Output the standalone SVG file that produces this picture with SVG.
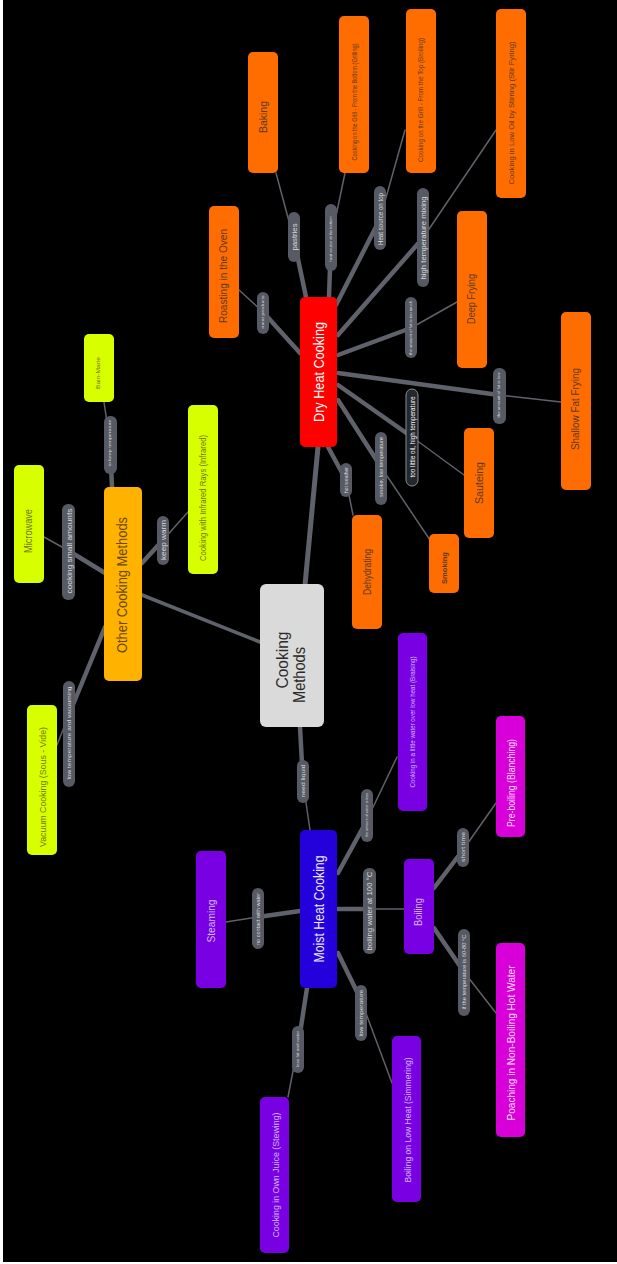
<svg xmlns="http://www.w3.org/2000/svg" width="617" height="1264" viewBox="0 0 617 1264">
<style>
.bg{fill:#000}
.c{stroke:#5f626a;fill:none;stroke-linecap:round}
.k{stroke-width:4.5}
.n{stroke-width:1.5}
.t{font-family:"Liberation Sans",Arial,sans-serif;text-anchor:middle;dominant-baseline:central}
.or rect{fill:#ff6d00}
.or text{fill:#5c3a22}
.lm rect{fill:#d8ff00}
.lm text{fill:#6f7a00}
.pu rect{fill:#7a00e4}
.pu text{fill:#cdb8fa}
.mg rect{fill:#d800d8}
.mg text{fill:#ffd8ff}
.lb rect{fill:#575a64}
.lb text{fill:#dcdcdc}
</style>
<rect x="0" y="0" width="617" height="1264" fill="#fff"/>
<rect class="bg" x="3" y="0" width="614" height="1262"/>
<g id="connectors">
<line class="c k" x1="305" y1="585" x2="318" y2="447" style="stroke-width:5"/>
<line class="c k" x1="260" y1="642" x2="142" y2="595" style="stroke-width:3.5"/>
<line class="c k" x1="300" y1="727" x2="303" y2="782"/>
<line class="c n" x1="303" y1="782" x2="310" y2="830"/>
<line class="c k" x1="306" y1="297" x2="294" y2="240"/>
<line class="c n" x1="294" y1="240" x2="276" y2="173"/>
<line class="c k" x1="329" y1="297" x2="331" y2="240"/>
<line class="c n" x1="331" y1="240" x2="345" y2="173"/>
<line class="c k" x1="336" y1="305" x2="380" y2="219"/>
<line class="c n" x1="380" y1="219" x2="405" y2="130"/>
<line class="c k" x1="338" y1="335" x2="423" y2="238"/>
<line class="c n" x1="423" y1="238" x2="496" y2="130"/>
<line class="c k" x1="338" y1="355" x2="411" y2="328"/>
<line class="c n" x1="411" y1="328" x2="457" y2="302"/>
<line class="c k" x1="338" y1="373" x2="499" y2="395"/>
<line class="c n" x1="499" y1="395" x2="561" y2="402"/>
<line class="c k" x1="338" y1="385" x2="412" y2="437"/>
<line class="c n" x1="412" y1="437" x2="464" y2="475"/>
<line class="c k" x1="338" y1="400" x2="381" y2="467"/>
<line class="c n" x1="381" y1="467" x2="430" y2="540"/>
<line class="c k" x1="328" y1="447" x2="346" y2="480"/>
<line class="c n" x1="346" y1="480" x2="353" y2="515"/>
<line class="c k" x1="300" y1="353" x2="263" y2="312"/>
<line class="c n" x1="263" y1="312" x2="239" y2="290"/>
<line class="c k" x1="112" y1="487" x2="110" y2="443"/>
<line class="c n" x1="110" y1="443" x2="104" y2="402"/>
<line class="c k" x1="105" y1="573" x2="69" y2="551"/>
<line class="c n" x1="69" y1="551" x2="44" y2="537"/>
<line class="c k" x1="142" y1="563" x2="163" y2="540"/>
<line class="c n" x1="163" y1="540" x2="188" y2="512"/>
<line class="c k" x1="105" y1="627" x2="70" y2="712"/>
<line class="c n" x1="70" y1="712" x2="57" y2="745"/>
<line class="c k" x1="300" y1="911" x2="258" y2="917"/>
<line class="c n" x1="258" y1="917" x2="226" y2="922"/>
<line class="c k" x1="338" y1="873" x2="366" y2="822"/>
<line class="c n" x1="366" y1="822" x2="397" y2="757"/>
<line class="c k" x1="337" y1="909" x2="369" y2="909"/>
<line class="c n" x1="369" y1="909" x2="404" y2="909"/>
<line class="c k" x1="338" y1="953" x2="361" y2="1000"/>
<line class="c n" x1="361" y1="1000" x2="392" y2="1083"/>
<line class="c k" x1="307" y1="988" x2="299" y2="1040"/>
<line class="c n" x1="299" y1="1040" x2="288" y2="1097"/>
<line class="c k" x1="434" y1="888" x2="463" y2="850"/>
<line class="c n" x1="463" y1="850" x2="496" y2="803"/>
<line class="c k" x1="434" y1="928" x2="464" y2="972"/>
<line class="c n" x1="464" y1="972" x2="496" y2="1013"/>
</g>
<g id="labels" class="lb">
<g id="l-pastries"><rect x="288" y="212" width="12" height="50" rx="6"/><text class="t" font-size="7" transform="translate(294,237) rotate(-90)" textLength="27" lengthAdjust="spacingAndGlyphs">pastries</text></g>
<g id="l-heatbottom"><rect x="325" y="204" width="12" height="67" rx="6"/><text class="t" font-size="3.5" transform="translate(331,239) rotate(-90)" textLength="45" lengthAdjust="spacingAndGlyphs">heat source at the bottom</text></g>
<g id="l-heattop"><rect x="374" y="186" width="12" height="64" rx="6"/><text class="t" font-size="6.5" transform="translate(380,219) rotate(-90)" textLength="52" lengthAdjust="spacingAndGlyphs">Heat source on top</text></g>
<g id="l-mixing"><rect x="417" y="188" width="12" height="99" rx="6"/><text class="t" font-size="7.5" transform="translate(423,238) rotate(-90)" textLength="83" lengthAdjust="spacingAndGlyphs">high temperature mixing</text></g>
<g id="l-meat"><rect x="257" y="292" width="12" height="42" rx="6"/><text class="t" font-size="3.5" transform="translate(263,312) rotate(-90)" textLength="33" lengthAdjust="spacingAndGlyphs">meat products</text></g>
<g id="l-toomuch"><rect x="405" y="297" width="12" height="61" rx="6"/><text class="t" font-size="3.3" transform="translate(411,328) rotate(-90)" textLength="54" lengthAdjust="spacingAndGlyphs">the amount of fat is too much</text></g>
<g id="l-low"><rect x="493" y="368" width="13" height="56" rx="6"/><text class="t" font-size="3.5" transform="translate(499,395) rotate(-90)" textLength="45" lengthAdjust="spacingAndGlyphs">the amount of fat is low</text></g>
<g id="l-toolittle"><rect x="406" y="389" width="12" height="97" rx="6" style="fill:#24272e;stroke:#8a8d96;stroke-width:1"/><text class="t" font-size="6.5" transform="translate(412,437) rotate(-90)" textLength="81" lengthAdjust="spacingAndGlyphs" style="fill:#fff">too little oil, high temperature</text></g>
<g id="l-smoke"><rect x="375" y="432" width="12" height="73" rx="6"/><text class="t" font-size="6" transform="translate(381,467) rotate(-90)" textLength="60" lengthAdjust="spacingAndGlyphs">smoke, low temperature</text></g>
<g id="l-hot"><rect x="340" y="463" width="12" height="34" rx="6"/><text class="t" font-size="6" transform="translate(346,480) rotate(-90)" textLength="26" lengthAdjust="spacingAndGlyphs">hot weather</text></g>
<g id="l-bain"><rect x="104" y="416" width="13" height="58" rx="6"/><text class="t" font-size="3.5" transform="translate(110,443) rotate(-90)" textLength="47" lengthAdjust="spacingAndGlyphs">to keep temperature</text></g>
<g id="l-small"><rect x="62" y="504" width="13" height="96" rx="6"/><text class="t" font-size="7.5" transform="translate(69,551) rotate(-90)" textLength="85" lengthAdjust="spacingAndGlyphs">cooking small amounts</text></g>
<g id="l-warm"><rect x="157" y="516" width="12" height="49" rx="6"/><text class="t" font-size="7" transform="translate(163,540) rotate(-90)" textLength="40" lengthAdjust="spacingAndGlyphs">keep warm</text></g>
<g id="l-vacuum"><rect x="63" y="681" width="12" height="106" rx="6"/><text class="t" font-size="5" transform="translate(69,733) rotate(-90)" textLength="93" lengthAdjust="spacingAndGlyphs">low temperature and vacuuming</text></g>
<g id="l-liquid"><rect x="297" y="760" width="12" height="43" rx="6"/><text class="t" font-size="6" transform="translate(303,781) rotate(-90)" textLength="33" lengthAdjust="spacingAndGlyphs">need liquid</text></g>
<g id="l-braise"><rect x="361" y="789" width="12" height="53" rx="6"/><text class="t" font-size="3.3" transform="translate(367,815) rotate(-90)" textLength="44" lengthAdjust="spacingAndGlyphs">the amount of water is less</text></g>
<g id="l-nocontact"><rect x="252" y="888" width="12" height="61" rx="6"/><text class="t" font-size="4.5" transform="translate(258,919) rotate(-90)" textLength="52" lengthAdjust="spacingAndGlyphs">no contact with water</text></g>
<g id="l-100"><rect x="363" y="868" width="13" height="86" rx="6"/><text class="t" font-size="7" transform="translate(369,911) rotate(-90)" textLength="79" lengthAdjust="spacingAndGlyphs">boiling water at 100 °C</text></g>
<g id="l-short"><rect x="457" y="828" width="12" height="39" rx="6"/><text class="t" font-size="6" transform="translate(463,847) rotate(-90)" textLength="30" lengthAdjust="spacingAndGlyphs">short time</text></g>
<g id="l-6080"><rect x="458" y="929" width="12" height="87" rx="6"/><text class="t" font-size="4.5" transform="translate(464,972) rotate(-90)" textLength="75" lengthAdjust="spacingAndGlyphs">if the temperature is 60-80 °C</text></g>
<g id="l-lowtemp"><rect x="355" y="985" width="12" height="56" rx="6"/><text class="t" font-size="5" transform="translate(361,1013) rotate(-90)" textLength="47" lengthAdjust="spacingAndGlyphs">low temperature</text></g>
<g id="l-stew"><rect x="292" y="1026" width="12" height="47" rx="6"/><text class="t" font-size="3.3" transform="translate(298,1049) rotate(-90)" textLength="36" lengthAdjust="spacingAndGlyphs">less fat and water</text></g>
</g>
<g id="n-central"><rect x="260" y="584" width="64" height="143" rx="6" fill="#dadada"/><text class="t" font-size="17" fill="#2a2a2a" transform="translate(282,660) rotate(-90)" textLength="57" lengthAdjust="spacingAndGlyphs">Cooking</text><text class="t" font-size="17" fill="#2a2a2a" transform="translate(299,675) rotate(-90)" textLength="56" lengthAdjust="spacingAndGlyphs">Methods</text></g>
<g id="n-dry"><rect x="300" y="297" width="37" height="150" rx="5" fill="#fe0000"/><text class="t" font-size="14" fill="#fff" transform="translate(319,372) rotate(-90)" textLength="100" lengthAdjust="spacingAndGlyphs">Dry Heat Cooking</text></g>
<g id="n-moist"><rect x="300" y="830" width="37" height="158" rx="5" fill="#2400da"/><text class="t" font-size="14" fill="#ece8ff" transform="translate(319,909) rotate(-90)" textLength="107" lengthAdjust="spacingAndGlyphs">Moist Heat Cooking</text></g>
<g id="n-other"><rect x="104" y="487" width="38" height="194" rx="5" fill="#ffb300"/><text class="t" font-size="14" fill="#6a4800" transform="translate(122,585) rotate(-90)" textLength="136" lengthAdjust="spacingAndGlyphs">Other Cooking Methods</text></g>
<g id="n-baking" class="or"><rect x="248" y="52" width="30" height="121" rx="5"/><text class="t" font-size="11" transform="translate(263,117) rotate(-90)" textLength="32" lengthAdjust="spacingAndGlyphs">Baking</text></g>
<g id="n-grilling" class="or"><rect x="339" y="16" width="30" height="157" rx="5"/><text class="t" font-size="6.5" transform="translate(354,102) rotate(-90)" textLength="117" lengthAdjust="spacingAndGlyphs">Cooking on the Grill - From the Bottom (Grilling)</text></g>
<g id="n-broiling" class="or"><rect x="406" y="9" width="30" height="164" rx="5"/><text class="t" font-size="6.5" transform="translate(420,100) rotate(-90)" textLength="124" lengthAdjust="spacingAndGlyphs">Cooking on the Grill - From the Top (Broiling)</text></g>
<g id="n-stirfry" class="or"><rect x="496" y="9" width="30" height="189" rx="5"/><text class="t" font-size="8" transform="translate(511,113) rotate(-90)" textLength="143" lengthAdjust="spacingAndGlyphs">Cooking in Low Oil by Stirring (Stir Fyring)</text></g>
<g id="n-roasting" class="or"><rect x="209" y="206" width="30" height="132" rx="5"/><text class="t" font-size="10" transform="translate(223,276) rotate(-90)" textLength="94" lengthAdjust="spacingAndGlyphs">Roasting in the Oven</text></g>
<g id="n-deep" class="or"><rect x="457" y="211" width="30" height="157" rx="5"/><text class="t" font-size="10.5" transform="translate(471,299) rotate(-90)" textLength="50" lengthAdjust="spacingAndGlyphs">Deep Frying</text></g>
<g id="n-shallow" class="or"><rect x="561" y="312" width="30" height="178" rx="5"/><text class="t" font-size="10.5" transform="translate(575,409) rotate(-90)" textLength="82" lengthAdjust="spacingAndGlyphs">Shallow Fat Frying</text></g>
<g id="n-sauteing" class="or"><rect x="464" y="428" width="30" height="110" rx="5"/><text class="t" font-size="10.5" transform="translate(479,483) rotate(-90)" textLength="42" lengthAdjust="spacingAndGlyphs">Sauteing</text></g>
<g id="n-smoking" class="or"><rect x="429" y="534" width="30" height="59" rx="5"/><text class="t" font-size="8" font-weight="bold" transform="translate(444,568) rotate(-90)" textLength="32" lengthAdjust="spacingAndGlyphs">Smoking</text></g>
<g id="n-dehydrating" class="or"><rect x="352" y="515" width="30" height="114" rx="5"/><text class="t" font-size="10" transform="translate(367,572) rotate(-90)" textLength="46" lengthAdjust="spacingAndGlyphs">Dehydrating</text></g>
<g id="n-bain" class="lm"><rect x="84" y="334" width="30" height="68" rx="5"/><text class="t" font-size="6" transform="translate(98,373) rotate(-90)" textLength="32" lengthAdjust="spacingAndGlyphs">Bain-Marie</text></g>
<g id="n-microwave" class="lm"><rect x="14" y="465" width="30" height="118" rx="5"/><text class="t" font-size="10" transform="translate(28,531) rotate(-90)" textLength="44" lengthAdjust="spacingAndGlyphs">Microwave</text></g>
<g id="n-infrared" class="lm"><rect x="188" y="405" width="30" height="169" rx="5"/><text class="t" font-size="8.5" transform="translate(203,498) rotate(-90)" textLength="126" lengthAdjust="spacingAndGlyphs">Cooking with Infrared Rays (Infrared)</text></g>
<g id="n-sousvide" class="lm"><rect x="27" y="705" width="30" height="150" rx="5"/><text class="t" font-size="9.5" transform="translate(42,787) rotate(-90)" textLength="120" lengthAdjust="spacingAndGlyphs">Vacuum Cooking (Sous - Vide)</text></g>
<g id="n-steaming" class="pu"><rect x="196" y="851" width="30" height="137" rx="5"/><text class="t" font-size="10.5" transform="translate(211,921) rotate(-90)" textLength="43" lengthAdjust="spacingAndGlyphs">Steaming</text></g>
<g id="n-braising" class="pu"><rect x="398" y="633" width="29" height="178" rx="5"/><text class="t" font-size="6.5" transform="translate(412,722) rotate(-90)" textLength="131" lengthAdjust="spacingAndGlyphs">Cooking in a little water over low heat (Braising)</text></g>
<g id="n-boiling" class="pu"><rect x="404" y="859" width="30" height="95" rx="5"/><text class="t" font-size="10.5" transform="translate(418,912) rotate(-90)" textLength="28" lengthAdjust="spacingAndGlyphs">Boiling</text></g>
<g id="n-simmering" class="pu"><rect x="392" y="1036" width="29" height="166" rx="5"/><text class="t" font-size="9.5" transform="translate(407,1120) rotate(-90)" textLength="125" lengthAdjust="spacingAndGlyphs">Boiling on Low Heat (Simmering)</text></g>
<g id="n-stewing" class="pu"><rect x="260" y="1097" width="29" height="156" rx="5"/><text class="t" font-size="9.5" transform="translate(275,1175) rotate(-90)" textLength="125" lengthAdjust="spacingAndGlyphs">Cooking in Own Juice (Stewing)</text></g>
<g id="n-blanching" class="mg"><rect x="496" y="716" width="29" height="121" rx="5"/><text class="t" font-size="11" transform="translate(511,783) rotate(-90)" textLength="88" lengthAdjust="spacingAndGlyphs">Pre-boiling (Blanching)</text></g>
<g id="n-poaching" class="mg"><rect x="496" y="943" width="29" height="194" rx="5"/><text class="t" font-size="11" transform="translate(511,1043) rotate(-90)" textLength="155" lengthAdjust="spacingAndGlyphs">Poaching in Non-Boiling Hot Water</text></g>
</svg>
